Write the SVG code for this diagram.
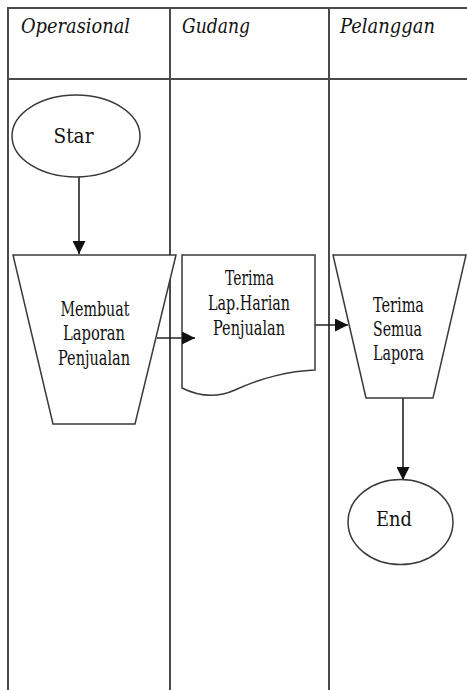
<svg xmlns="http://www.w3.org/2000/svg" width="467" height="690" viewBox="0 0 467 690">
  <style>
    .lane { stroke: #4a4a4a; stroke-width: 2; fill: none; }
    .shape { fill: #ffffff; stroke: #3a3a3a; stroke-width: 1.5; }
    .head { font-family: 'DejaVu Serif', serif; font-style: italic; font-size: 20.5px; fill: #111; }
    .lbl { font-family: 'DejaVu Serif', serif; font-size: 21px; fill: #111; text-anchor: middle; }
    .conn { stroke: #222; stroke-width: 1.6; fill: none; }
  </style>
  <defs>
    <marker id="arrow" viewBox="0 0 10 10" refX="10" refY="5" markerWidth="13" markerHeight="13" markerUnits="userSpaceOnUse" orient="auto">
      <path d="M0,0 L10,5 L0,10 Z" fill="#111"/>
    </marker>
  </defs>

  <rect width="467" height="690" fill="#ffffff"/>

  <!-- swimlane grid -->
  <g id="lanes">
    <line class="lane" x1="8" y1="8" x2="467" y2="8"/>
    <line class="lane" x1="8" y1="79" x2="467" y2="79"/>
    <line class="lane" x1="8" y1="7" x2="8" y2="690"/>
    <line class="lane" x1="170" y1="7" x2="170" y2="690"/>
    <line class="lane" x1="329" y1="7" x2="329" y2="690"/>
    <text class="head" x="21" y="33" textLength="109" lengthAdjust="spacingAndGlyphs">Operasional</text>
    <text class="head" x="182" y="33" textLength="68" lengthAdjust="spacingAndGlyphs">Gudang</text>
    <text class="head" x="340" y="33" textLength="95" lengthAdjust="spacingAndGlyphs">Pelanggan</text>
  </g>

  <!-- connectors -->
  <g id="connectors">
    <line class="conn" x1="79" y1="177" x2="79" y2="254" marker-end="url(#arrow)"/>
    <line class="conn" x1="157" y1="338" x2="195" y2="338" marker-end="url(#arrow)"/>
    <line class="conn" x1="315" y1="325" x2="348" y2="325" marker-end="url(#arrow)"/>
    <line class="conn" x1="403" y1="398" x2="403" y2="480" marker-end="url(#arrow)"/>
  </g>

  <g id="start">
    <ellipse class="shape" cx="76" cy="136" rx="64" ry="41"/>
    <text class="lbl" x="73.5" y="143" textLength="40" lengthAdjust="spacingAndGlyphs">Star</text>
  </g>

  <g id="membuat-laporan">
    <polygon class="shape" points="13,255 176,255 135,424 53,424"/>
    <text class="lbl" x="95" y="316" textLength="69" lengthAdjust="spacingAndGlyphs">Membuat</text>
    <text class="lbl" x="94" y="340" textLength="62" lengthAdjust="spacingAndGlyphs">Laporan</text>
    <text class="lbl" x="94" y="365" textLength="72" lengthAdjust="spacingAndGlyphs">Penjualan</text>
  </g>

  <g id="terima-lap-harian">
    <path class="shape" d="M182,255 L315,255 L315,370 C290,371 260,378 235,390 C215,399 198,396 182,388 Z"/>
    <line class="conn" x1="182" y1="338" x2="195" y2="338" marker-end="url(#arrow)"/>
    <text class="lbl" x="249.5" y="285" textLength="49" lengthAdjust="spacingAndGlyphs">Terima</text>
    <text class="lbl" x="249" y="310" textLength="82" lengthAdjust="spacingAndGlyphs">Lap.Harian</text>
    <text class="lbl" x="249" y="335" textLength="72" lengthAdjust="spacingAndGlyphs">Penjualan</text>
  </g>

  <g id="terima-semua">
    <polygon class="shape" points="333,255 466,255 433,398 366,398"/>
    <text class="lbl" x="398.5" y="312" textLength="51" lengthAdjust="spacingAndGlyphs">Terima</text>
    <text class="lbl" x="397.5" y="336" textLength="49" lengthAdjust="spacingAndGlyphs">Semua</text>
    <text class="lbl" x="398.5" y="360" textLength="51" lengthAdjust="spacingAndGlyphs">Lapora</text>
  </g>

  <g id="end">
    <ellipse class="shape" cx="400.5" cy="522" rx="52.5" ry="42.5"/>
    <text class="lbl" x="394" y="526" textLength="36" lengthAdjust="spacingAndGlyphs">End</text>
  </g>
</svg>
